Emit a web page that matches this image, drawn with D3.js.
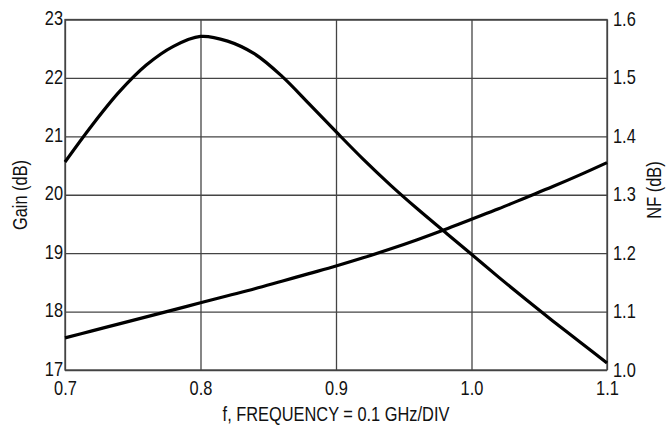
<!DOCTYPE html>
<html>
<head>
<meta charset="utf-8">
<script src="https://cdn.jsdelivr.net/npm/d3@7"></script>
<style>
  body { margin: 0; background: #fff; }
  svg text { font-family: "Liberation Sans", Arial, sans-serif; fill: #111; }
</style>
</head>
<body>
<script>
var width = 667, height = 433;

// frequency in GHz
var freq = [0.70, 0.72, 0.74, 0.76, 0.78, 0.80, 0.82, 0.84, 0.86, 0.88, 0.90,
            0.92, 0.94, 0.96, 0.98, 1.00, 1.02, 1.04, 1.06, 1.08, 1.10];
// gain (dB), left axis
var gain = [20.56, 21.19, 21.76, 22.22, 22.54, 22.71, 22.63, 22.41, 22.03, 21.56, 21.08,
            20.61, 20.17, 19.76, 19.37, 18.98, 18.59, 18.21, 17.84, 17.48, 17.12];
// noise figure (dB), right axis
var nf = [1.055, 1.067, 1.079, 1.091, 1.103, 1.115, 1.127, 1.139, 1.152, 1.165, 1.178,
          1.192, 1.207, 1.223, 1.240, 1.258, 1.276, 1.295, 1.314, 1.334, 1.355];

var xTicks = [0.7, 0.8, 0.9, 1.0, 1.1];
var gainTicks = [17, 18, 19, 20, 21, 22, 23];
var nfTicks = [1.0, 1.1, 1.2, 1.3, 1.4, 1.5, 1.6];

// plot box (avoid "top" - it's window.top)
var pLeft = 65, pRight = 607, pTop = 19.5, pBottom = 370;
var squeeze = 0.82; // narrow look for the labels

var x = d3.scaleLinear().domain([0.7, 1.1]).range([pLeft, pRight]);
var yGain = d3.scaleLinear().domain([17, 23]).range([pBottom, pTop]);
var yNF = d3.scaleLinear().domain([1.0, 1.6]).range([pBottom, pTop]);

var svg = d3.select('body').append('svg')
    .attr('width', width)
    .attr('height', height);

// grid lines
svg.append('g')
    .attr('transform', 'translate(' + pLeft + ',0)')
    .call(d3.axisLeft(yGain).tickValues(gainTicks).tickSize(-(pRight - pLeft)).tickFormat(''))
    .call(g => g.select('.domain').remove())
    .call(g => g.selectAll('line').attr('stroke', '#444').attr('stroke-width', 1.3));

svg.append('g')
    .attr('transform', 'translate(0,' + pBottom + ')')
    .call(d3.axisBottom(x).tickValues(xTicks).tickSize(-(pBottom - pTop)).tickFormat(''))
    .call(g => g.select('.domain').remove())
    .call(g => g.selectAll('line').attr('stroke', '#444').attr('stroke-width', 1.3));

svg.append('rect')
    .attr('x', pLeft).attr('y', pTop)
    .attr('width', pRight - pLeft).attr('height', pBottom - pTop)
    .attr('fill', 'none')
    .attr('stroke', '#444')
    .attr('stroke-width', 1.3);

// tick labels
var gAxis = svg.append('g')
    .attr('transform', 'translate(' + pLeft + ',0)')
    .call(d3.axisLeft(yGain).tickValues(gainTicks).tickSize(0).tickPadding(2).tickFormat(d3.format('d')));
var nAxis = svg.append('g')
    .attr('transform', 'translate(' + pRight + ',0)')
    .call(d3.axisRight(yNF).tickValues(nfTicks).tickSize(0).tickPadding(6).tickFormat(d3.format('.1f')));
var xAxis = svg.append('g')
    .attr('transform', 'translate(0,' + pBottom + ')')
    .call(d3.axisBottom(x).tickValues(xTicks).tickSize(0).tickPadding(11).tickFormat(d3.format('.1f')));

[gAxis, nAxis, xAxis].forEach(function(a){
    a.attr('font-family', null).attr('font-size', null);
    a.select('.domain').remove();
    a.selectAll('text')
        .attr('font-size', '20px')
        .attr('fill', '#111')
        .attr('x', function(){ return +d3.select(this).attr('x') / squeeze || 0; })
        .attr('transform', 'scale(' + squeeze + ',1)');
});
gAxis.selectAll('text').attr('dy', '0.26em');
nAxis.selectAll('text').attr('dy', '0.3em');

// curves
var gainLine = d3.line()
    .x(function(d, i){ return x(freq[i]); })
    .y(function(d){ return yGain(d); })
    .curve(d3.curveCatmullRom.alpha(0.5));
var nfLine = d3.line()
    .x(function(d, i){ return x(freq[i]); })
    .y(function(d){ return yNF(d); })
    .curve(d3.curveCatmullRom.alpha(0.5));

svg.append('path')
    .datum(gain)
    .attr('d', gainLine)
    .attr('fill', 'none')
    .attr('stroke', '#000')
    .attr('stroke-width', 3.2);

svg.append('path')
    .datum(nf)
    .attr('d', nfLine)
    .attr('fill', 'none')
    .attr('stroke', '#000')
    .attr('stroke-width', 3.2);

// axis titles
svg.append('text')
    .attr('transform', 'translate(27,195) rotate(-90) scale(' + squeeze + ',1)')
    .attr('text-anchor', 'middle')
    .attr('font-size', '20px')
    .text('Gain (dB)');

svg.append('text')
    .attr('transform', 'translate(661,190) rotate(-90) scale(' + squeeze + ',1)')
    .attr('text-anchor', 'middle')
    .attr('font-size', '20px')
    .text('NF (dB)');

svg.append('text')
    .attr('transform', 'translate(' + (pLeft + pRight) / 2 + ',421) scale(' + squeeze + ',1)')
    .attr('text-anchor', 'middle')
    .attr('font-size', '20px')
    .text('f, FREQUENCY = 0.1 GHz/DIV');
</script>
</body>
</html>
